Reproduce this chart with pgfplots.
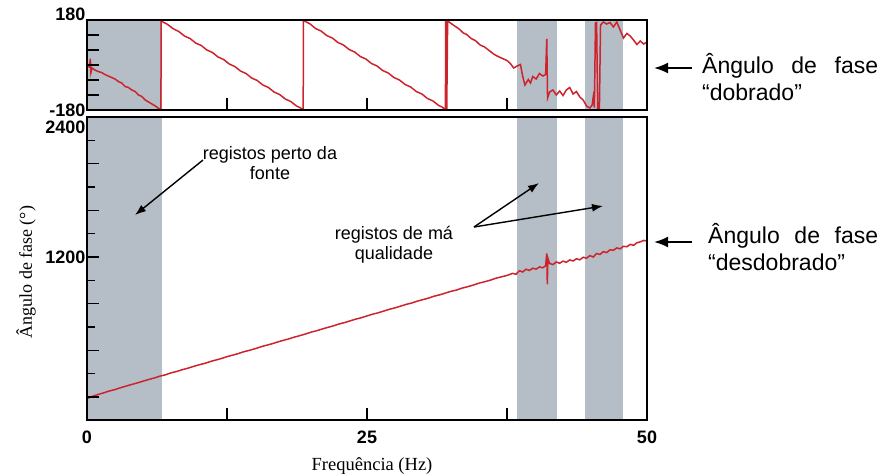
\documentclass[border=0pt]{standalone}
\usepackage{fontspec}
\setmainfont{Liberation Serif}
\newfontfamily\arial{Liberation Sans}
\usepackage{pgfplots}
\pgfplotsset{compat=1.18}
\usetikzlibrary{arrows.meta}
\definecolor{bandgray}{RGB}{181,189,199}
\definecolor{phasered}{RGB}{205,35,45}
\begin{document}
\begin{tikzpicture}
\useasboundingbox (0,0) rectangle (885pt,-475pt);
\pgfplotsset{
  common/.style={
    scale only axis, width=560pt, xmin=0, xmax=50,
    tick pos=left, axis on top,
    axis line style={line width=1.2pt, black},
    tick style={line width=1.2pt, black},
    major tick length=12pt, minor tick length=8pt,
    tick label style={font=\arial\bfseries\fontsize{18}{20}\selectfont, inner sep=0pt},
    yticklabel style={xshift=-1.5pt},
  }
}
% ---------- top axis: wrapped phase ----------
\begin{axis}[common, at={(87pt,-110pt)}, anchor=south west, height=90pt,
  ymin=-180, ymax=180,
  xtick={12.5,25,37.5}, xticklabels={,,},
  ytick={-180,-120,-60,0,60,120,180},
  yticklabels={-180,,,,,,\raisebox{0pt}[0pt][0pt]{180}},
]
\addplot[fill=bandgray, draw=none] coordinates {(0,-200) (6.7,-200) (6.7,200) (0,200)} -- cycle;
\addplot[fill=bandgray, draw=none] coordinates {(38.4,-200) (42.0,-200) (42.0,200) (38.4,200)} -- cycle;
\addplot[fill=bandgray, draw=none] coordinates {(44.5,-200) (47.9,-200) (47.9,200) (44.5,200)} -- cycle;
\addplot[phasered, line width=1.5pt] coordinates {
(0,-5)(0.2,-8)(0.3,25)(0.35,-30)(0.45,-12)(0.7,-20)(1.0,-26)(1.3,-30)(1.6,-38)(1.9,-44)(2.2,-50)(2.5,-56)(2.8,-66)(3.1,-72)(3.4,-86)(3.7,-90)(4.0,-100)(4.3,-106)(4.6,-120)(4.9,-126)(5.2,-140)(5.5,-148)(5.8,-156)(6.1,-164)(6.35,-172)(6.6,-179)
(6.62,176)(7.2,162)(7.7,145)(8.2,134)(8.7,116)(9.2,106)(9.7,88)(10.2,78)(10.7,60)(11.2,50)(11.7,32)(12.2,22)(12.7,4)(13.2,-6)(13.7,-24)(14.2,-34)(14.7,-52)(15.2,-62)(15.7,-80)(16.2,-90)(16.7,-108)(17.2,-118)(17.7,-136)(18.2,-146)(18.7,-164)(19.0,-170)(19.3,-179)
(19.33,178)(19.9,165)(20.4,146)(20.9,136)(21.4,118)(21.9,108)(22.4,90)(22.9,80)(23.4,62)(23.9,52)(24.4,34)(24.9,24)(25.4,6)(25.9,-4)(26.4,-22)(26.9,-32)(27.4,-50)(27.9,-60)(28.4,-78)(28.9,-88)(29.4,-106)(29.9,-116)(30.4,-134)(30.9,-144)(31.4,-162)(31.7,-168)(32.0,-179)
(32.03,178)(32.12,-176)(32.2,176)(32.7,160)(33.2,145)(33.6,128)(33.9,122)(34.3,106)(34.7,97)(35.1,80)(35.5,72)(35.9,58)(36.3,44)(36.7,34)(37.1,26)(37.5,18)(37.8,6)(38.1,-12)(38.4,-4)(38.7,2)(38.9,-45)(39.1,-80)(39.4,-58)(39.6,-72)(39.8,-46)(40.1,-56)(40.4,-34)(40.7,-44)(40.95,-38)(41.05,104)(41.12,-132)(41.3,-108)(41.6,-100)(41.9,-120)(42.2,-104)(42.5,-122)(42.8,-100)(43.1,-90)(43.4,-116)(43.7,-106)(44.0,-128)(44.3,-140)(44.6,-164)(44.9,-172)(45.1,-160)(45.2,-128)(45.3,-170)(45.4,168)(45.5,170)(45.6,-179)(45.75,-176)(45.85,160)(46.1,172)(46.4,164)(46.7,170)(47.0,152)(47.3,172)(47.6,140)(47.9,108)(48.2,126)(48.5,116)(48.8,100)(49.1,82)(49.4,96)(49.7,84)(50,92)
};
\end{axis}
% ---------- bottom axis: unwrapped phase ----------
\begin{axis}[common, at={(87pt,-420pt)}, anchor=south west, height=303pt,
  ymin=-197, ymax=2400,
  xtick={0,25,50}, xticklabels={0,25,50},
  extra x ticks={12.5,37.5}, extra x tick labels={,},
  xticklabel style={yshift=-11pt},
  ytick={0,400,800,1200,1600,2000,2400},
  yticklabels={,,,1200\hspace{5pt},,,\raisebox{-16pt}[0pt][0pt]{2400}},
  minor ytick={200,600,1000,1400,1800,2200},
  xlabel={Frequência (Hz)},
  xlabel style={font=\fontsize{18.5}{20}\selectfont, at={(axis description cs:0.509,0)}, anchor=center, yshift=-46pt},
  ylabel={Ângulo de fase (°)},
  ylabel style={font=\fontsize{18}{20}\selectfont, at={(axis description cs:-0.109,0.488)}, anchor=center},
]
\addplot[fill=bandgray, draw=none] coordinates {(0,-300) (6.7,-300) (6.7,2500) (0,2500)} -- cycle;
\addplot[fill=bandgray, draw=none] coordinates {(38.4,-300) (42.0,-300) (42.0,2500) (38.4,2500)} -- cycle;
\addplot[fill=bandgray, draw=none] coordinates {(44.5,-300) (47.9,-300) (47.9,2500) (44.5,2500)} -- cycle;
\addplot[phasered, line width=1.5pt] coordinates {
(0,-12)(0.3,-2)(0.5,6)(1,22)(1.5,36)(2,52)(2.5,64)(3,80)(3.5,94)(4,108)(4.5,121)(5,136)(5.5,150)(6,163)(6.5,179)(7,190)(7.5,207)(8,219)(8.5,234)(9,247)(9.5,262)(10,276)(10.5,288)(11,304)(11.5,317)(12,330)(12.5,346)(13,359)(13.5,372)(14,388)(14.5,400)(15,414)(15.5,430)(16,443)(16.5,456)(17,471)(17.5,485)(18,498)(18.5,513)(19,526)(19.5,540)(20,556)(20.5,568)(21,583)(21.5,597)(22,610)(22.5,626)(23,638)(23.5,653)(24,668)(24.5,680)(25,695)(25.5,710)(26,722)(26.5,737)(27,752)(27.5,764)(28,779)(28.5,794)(29,806)(29.5,822)(30,835)(30.5,848)(31,864)(31.5,876)(32,891)(32.5,906)(33,917)(33.5,934)(34,946)(34.5,960)(35,976)(35.5,988)(36,1001)(36.5,1018)(37,1030)(37.5,1042)(38,1060)(38.3,1052)(38.6,1082)(38.9,1072)(39.2,1095)(39.5,1085)(39.8,1104)(40.1,1096)(40.4,1115)(40.7,1108)(40.95,1125)(41.0,1180)(41.05,1230)(41.1,965)(41.15,1190)(41.3,1145)(41.6,1135)(41.9,1158)(42.2,1146)(42.5,1165)(42.8,1155)(43.1,1175)(43.4,1166)(43.7,1185)(44,1176)(44.3,1198)(44.6,1190)(44.9,1212)(45.2,1200)(45.5,1230)(45.8,1222)(46.1,1246)(46.4,1238)(46.7,1262)(47,1258)(47.3,1278)(47.6,1270)(47.9,1292)(48.2,1288)(48.5,1308)(48.8,1300)(49.1,1322)(49.4,1330)(49.7,1342)(50,1338)
};
\end{axis}
% ---------- annotations ----------
\begin{scope}[x=1pt, y=-1pt]
\node[font=\arial\fontsize{18}{20}\selectfont, align=center, inner sep=0pt] at (270,163) {registos perto da\\fonte};
\node[font=\arial\fontsize{18}{20}\selectfont, align=center, inner sep=0pt] at (394,245) {registos de má\\qualidade};
\draw[line width=1.4pt, -{Latex[length=11pt,width=8pt]}] (203,160) -- (135,215);
\draw[line width=1.4pt, -{Latex[length=11pt,width=8pt]}] (474,227) -- (539,183);
\draw[line width=1.4pt, -{Latex[length=11pt,width=8pt]}] (474,227) -- (603,206);
\draw[line width=2pt, -{Latex[length=14pt,width=11pt]}] (692,68) -- (654,68);
\draw[line width=2pt, -{Latex[length=14pt,width=11pt]}] (692,242) -- (654,242);
\node[anchor=base west, inner sep=0pt, font=\arial\fontsize{23}{27}\selectfont] at (702,73) {\makebox[176pt][s]{Ângulo\hfill de\hfill fase}};
\node[anchor=base west, inner sep=0pt, font=\arial\fontsize{23}{27}\selectfont] at (702,100) {“dobrado”};
\node[anchor=base west, inner sep=0pt, font=\arial\fontsize{23}{27}\selectfont] at (708,243) {\makebox[170pt][s]{Ângulo\hfill de\hfill fase}};
\node[anchor=base west, inner sep=0pt, font=\arial\fontsize{23}{27}\selectfont] at (708,270) {“desdobrado”};
\end{scope}
\end{tikzpicture}
\end{document}
